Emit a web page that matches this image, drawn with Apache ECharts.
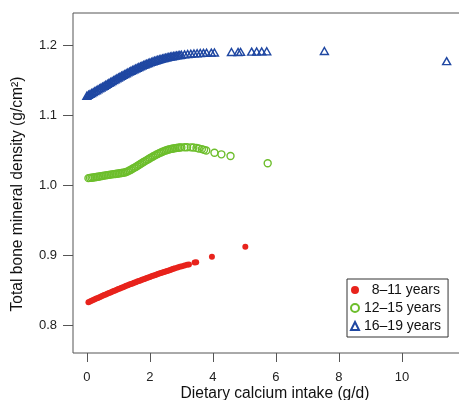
<!DOCTYPE html>
<html>
<head>
<meta charset="utf-8">
<script src="https://cdn.jsdelivr.net/npm/echarts@6/dist/echarts.min.js"></script>
<style>
  html, body { margin: 0; padding: 0; background: #fff; overflow: hidden; width: 459px; height: 400px; }
  /* plot box runs past the right edge, as in the cropped original */
  #chart { width: 480px; height: 400px; }
</style>
</head>
<body>
<div id="chart"></div>
<script>
// tick positions
const xTicks = [0, 2, 4, 6, 8, 10];
const yTicks = [0.8, 0.9, 1.0, 1.1, 1.2];

const groupNames = ["8–11 years", "12–15 years", "16–19 years"];

// 8-11 years: [calcium intake, BMD]
const age8to11 = [
  [0.05,0.8326],[0.10,0.8336],[0.15,0.8346],[0.20,0.8357],[0.25,0.8367],[0.30,0.8377],
  [0.35,0.8387],[0.40,0.8397],[0.45,0.8407],[0.50,0.8417],[0.55,0.8427],[0.60,0.8437],
  [0.65,0.8446],[0.70,0.8456],[0.75,0.8466],[0.80,0.8475],[0.85,0.8485],[0.90,0.8494],
  [0.95,0.8504],[1.00,0.8513],[1.05,0.8522],[1.10,0.8531],[1.15,0.8541],[1.20,0.8550],
  [1.25,0.8559],[1.30,0.8568],[1.35,0.8577],[1.40,0.8585],[1.45,0.8594],[1.50,0.8603],
  [1.55,0.8612],[1.60,0.8620],[1.65,0.8629],[1.70,0.8637],[1.75,0.8646],[1.80,0.8654],
  [1.85,0.8662],[1.90,0.8671],[1.95,0.8679],[2.00,0.8687],[2.05,0.8695],[2.10,0.8703],
  [2.15,0.8711],[2.20,0.8719],[2.25,0.8727],[2.30,0.8735],[2.35,0.8742],[2.40,0.8750],
  [2.45,0.8757],[2.50,0.8765],[2.55,0.8772],[2.60,0.8780],[2.65,0.8787],[2.70,0.8795],
  [2.75,0.8802],[2.80,0.8809],[2.88,0.8822],[2.95,0.8831],[3.02,0.8840],[3.10,0.8850],
  [3.18,0.8860],[3.24,0.8866],[3.42,0.8892],[3.47,0.8896],[3.97,0.8976],[5.03,0.9119]
];

// 12-15 years
const age12to15 = [
  [0.05,1.0098],[0.10,1.0101],[0.15,1.0104],[0.20,1.0108],[0.25,1.0111],[0.30,1.0115],
  [0.35,1.0118],[0.40,1.0122],[0.45,1.0126],[0.50,1.0130],[0.55,1.0134],[0.60,1.0138],
  [0.65,1.0141],[0.70,1.0145],[0.75,1.0148],[0.80,1.0152],[0.85,1.0155],[0.90,1.0158],
  [0.95,1.0161],[1.00,1.0164],[1.05,1.0167],[1.10,1.0171],[1.15,1.0174],[1.20,1.0179],
  [1.25,1.0186],[1.30,1.0195],[1.35,1.0206],[1.40,1.0218],[1.45,1.0231],[1.50,1.0245],
  [1.55,1.0258],[1.60,1.0272],[1.65,1.0286],[1.70,1.0300],[1.75,1.0314],[1.80,1.0328],
  [1.85,1.0341],[1.90,1.0355],[1.95,1.0368],[2.00,1.0382],[2.05,1.0395],[2.10,1.0408],
  [2.15,1.0420],[2.20,1.0432],[2.25,1.0444],[2.30,1.0455],[2.35,1.0465],[2.40,1.0475],
  [2.45,1.0484],[2.50,1.0492],[2.55,1.0499],[2.60,1.0506],[2.65,1.0512],[2.70,1.0517],
  [2.75,1.0522],[2.80,1.0526],[2.85,1.0530],[2.90,1.0533],[2.95,1.0535],[3.00,1.0537],
  [3.10,1.0540],[3.18,1.0540],[3.30,1.0538],[3.38,1.0535],[3.48,1.0530],[3.55,1.0522],
  [3.65,1.0512],[3.72,1.0502],[3.79,1.0492],[4.05,1.0461],[4.27,1.0438],[4.56,1.0414],
  [5.74,1.0310]
];

// 16-19 years
const age16to19 = [
  [0.00,1.1275],[0.05,1.1288],[0.10,1.1301],[0.15,1.1314],[0.20,1.1327],[0.25,1.1340],
  [0.30,1.1353],[0.35,1.1366],[0.40,1.1379],[0.45,1.1392],[0.50,1.1405],[0.55,1.1418],
  [0.60,1.1432],[0.65,1.1445],[0.70,1.1458],[0.75,1.1471],[0.80,1.1484],[0.85,1.1497],
  [0.90,1.1510],[0.95,1.1523],[1.00,1.1536],[1.05,1.1548],[1.10,1.1560],[1.15,1.1572],
  [1.20,1.1584],[1.25,1.1596],[1.30,1.1608],[1.35,1.1620],[1.40,1.1631],[1.45,1.1642],
  [1.50,1.1653],[1.55,1.1664],[1.60,1.1675],[1.65,1.1685],[1.70,1.1695],[1.75,1.1705],
  [1.80,1.1715],[1.85,1.1724],[1.90,1.1733],[1.95,1.1742],[2.00,1.1751],[2.05,1.1759],
  [2.10,1.1767],[2.15,1.1775],[2.20,1.1782],[2.25,1.1789],[2.30,1.1796],[2.35,1.1802],
  [2.40,1.1808],[2.45,1.1814],[2.50,1.1820],[2.55,1.1825],[2.60,1.1830],[2.65,1.1835],
  [2.70,1.1839],[2.75,1.1843],[2.80,1.1847],[2.85,1.1851],[2.90,1.1854],[2.95,1.1857],
  [3.00,1.1860],[3.10,1.1866],[3.20,1.1871],[3.30,1.1875],[3.40,1.1879],[3.50,1.1882],
  [3.60,1.1885],[3.70,1.1887],[3.80,1.1889],[3.95,1.1891],[4.05,1.1893],[4.59,1.1900],
  [4.80,1.1900],[4.88,1.1901],[5.23,1.1905],[5.39,1.1906],[5.55,1.1908],[5.71,1.1910],
  [7.54,1.1914],[11.42,1.1770]
];

const font = "'Liberation Sans', Arial, sans-serif";

let myChart = echarts.init(document.getElementById("chart"));

let option = {
  animation: false,
  backgroundColor: "#fff",
  textStyle: { fontFamily: font },
  grid: {
    left: 73,
    top: 13,
    width: 396,
    height: 340,
    show: true,
    borderColor: "#555",
    borderWidth: 1,
  },
  xAxis: {
    type: "value",
    min: -0.44,
    max: 12.13,
    splitLine: { show: false },
    axisLine: { show: false, onZero: false },
    axisTick: {
      show: true,
      customValues: xTicks,
      length: 9,
      lineStyle: { color: "#555" },
    },
    axisLabel: {
      customValues: xTicks,
      margin: 18,
      fontSize: 13,
      color: "#222",
      fontFamily: font,
    },
  },
  yAxis: {
    type: "value",
    min: 0.76,
    max: 1.2457,
    splitLine: { show: false },
    axisLine: { show: false, onZero: false },
    axisTick: {
      show: true,
      customValues: yTicks,
      length: 10,
      lineStyle: { color: "#555" },
    },
    axisLabel: {
      customValues: yTicks,
      margin: 16,
      fontSize: 13,
      color: "#222",
      fontFamily: font,
      formatter: (v) => v.toFixed(1),
    },
  },
  legend: {
    data: groupNames,
    orient: "vertical",
    left: 347,
    top: 279,
    padding: [4, 7, 4, 3],
    itemGap: 4,
    itemWidth: 8,
    itemHeight: 8,
    borderColor: "#333",
    borderWidth: 1,
    backgroundColor: "#fff",
    textStyle: { fontSize: 14, color: "#111", lineHeight: 14, fontFamily: font },
    formatter: (name) => (name === groupNames[0] ? "  " + name : name),
  },
  graphic: [
    {
      type: "text",
      x: 275,
      y: 394,
      style: {
        text: "Dietary calcium intake (g/d)",
        font: "15.6px " + font,
        fill: "#111",
        align: "center",
        verticalAlign: "middle",
      },
    },
    {
      type: "text",
      x: 18,
      y: 194,
      rotation: Math.PI / 2,
      style: {
        text: "Total bone mineral density (g/cm²)",
        font: "15.6px " + font,
        fill: "#111",
        align: "center",
        verticalAlign: "middle",
      },
    },
  ],
  series: [
    {
      name: groupNames[0],
      type: "scatter",
      data: age8to11,
      symbol: "circle",
      symbolSize: 6,
      itemStyle: { color: "#E8231C", opacity: 1 },
    },
    {
      name: groupNames[1],
      type: "scatter",
      data: age12to15,
      symbol: "circle",
      symbolSize: 7,
      itemStyle: {
        color: "rgba(0,0,0,0)",
        borderColor: "#6DBE2C",
        borderWidth: 1.4,
        opacity: 1,
      },
    },
    {
      name: groupNames[2],
      type: "scatter",
      data: age16to19,
      symbol: "triangle",
      symbolSize: [8, 7],
      itemStyle: {
        color: "rgba(0,0,0,0)",
        borderColor: "#1F47A2",
        borderWidth: 1.4,
        opacity: 1,
      },
    },
  ],
};

myChart.setOption(option);
</script>
</body>
</html>
